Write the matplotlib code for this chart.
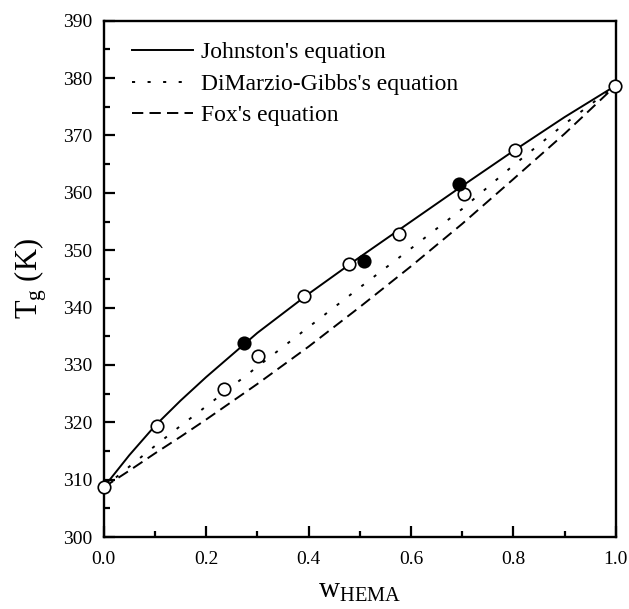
import numpy as np
import matplotlib
matplotlib.use('Agg')
import matplotlib.pyplot as plt
from matplotlib.ticker import MultipleLocator

plt.rcParams['font.family'] = 'Liberation Serif'
plt.rcParams['mathtext.fontset'] = 'custom'
plt.rcParams['mathtext.rm'] = 'Liberation Serif'

# measured Tg values, open and filled circles
w_open = [0.0, 0.104, 0.234, 0.301, 0.391, 0.479, 0.576, 0.703, 0.803, 0.998]
tg_open = [308.7, 319.4, 325.9, 331.6, 342.1, 347.6, 352.9, 359.8, 367.4, 378.7]
w_filled = [0.273, 0.508, 0.694]
tg_filled = [333.8, 348.2, 361.5]

# curves
w_curve = [0.0, 0.05, 0.1, 0.15, 0.2, 0.3, 0.4, 0.5, 0.6, 0.7, 0.8, 0.9, 1.0]
tg_johnston = [308.7, 314.3, 319.4, 323.8, 327.9, 335.6, 342.4, 348.8, 355.0, 361.2, 367.3, 373.2, 378.7]
tg_dimarzio = [308.7, 312.3, 315.9, 319.4, 322.8, 329.7, 336.6, 343.5, 350.3, 357.2, 364.8, 372.0, 378.7]
tg_fox = [308.7, 311.6, 314.6, 317.5, 320.5, 326.7, 333.2, 340.1, 347.2, 354.6, 362.4, 370.3, 378.7]

fig = plt.figure(figsize=(6.29, 6.09), dpi=100)
ax = fig.add_axes([0.165, 0.118, 0.814, 0.848])

ax.plot(w_curve, tg_johnston, color='black', lw=1.4, label="Johnston's equation")
ax.plot(w_curve, tg_dimarzio, color='black', lw=1.4, dashes=(1.6, 6.4), label="DiMarzio-Gibbs's equation")
ax.plot(w_curve, tg_fox, color='black', lw=1.4, dashes=(5.8, 3.2), label="Fox's equation")

ax.plot(w_open, tg_open, 'o', ms=9, mfc='white', mec='black', mew=1.2, clip_on=False, zorder=5)
ax.plot(w_filled, tg_filled, 'o', ms=9, mfc='black', mec='black', mew=1.2, zorder=5)

ax.set_xlim(0, 1)
ax.set_ylim(300, 390)
ax.xaxis.set_major_locator(MultipleLocator(0.2))
ax.xaxis.set_minor_locator(MultipleLocator(0.1))
ax.yaxis.set_major_locator(MultipleLocator(10))
ax.yaxis.set_minor_locator(MultipleLocator(5))
ax.set_xticks(np.arange(0, 1.01, 0.2))
ax.set_xticklabels(['0.0', '0.2', '0.4', '0.6', '0.8', '1.0'])

ax.tick_params(which='both', direction='in', labelsize=14, width=1.6)
ax.tick_params(which='major', length=8)
ax.tick_params(which='minor', length=4.5)
ax.tick_params(axis='x', pad=10)
ax.tick_params(axis='y', pad=8)
for s in ax.spines.values():
    s.set_linewidth(1.7)

ax.set_xlabel(r'$\mathregular{w_{HEMA}}$', fontsize=21, labelpad=7)
ax.set_ylabel(r'$\mathregular{T_g}$ (K)', fontsize=22, labelpad=10)

ax.legend(loc='upper left', bbox_to_anchor=(0.013, 1.0), frameon=False, fontsize=17,
          handlelength=2.6, handletextpad=0.35, labelspacing=0.42)

fig.savefig('out.png', dpi=100)
